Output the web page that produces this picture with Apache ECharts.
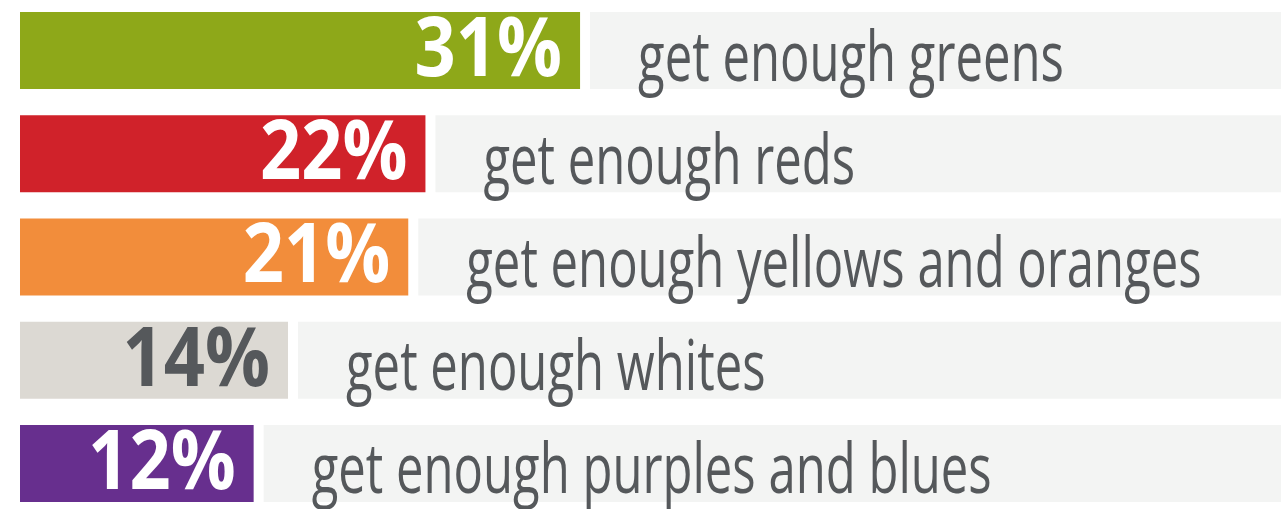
<!DOCTYPE html>
<html>
<head>
<meta charset="utf-8">
<script src="https://cdn.jsdelivr.net/npm/echarts@6/dist/echarts.min.js"></script>
<style>
html,body{margin:0;padding:0;background:#fff;}
#c{width:1281px;height:509px;}
</style>
</head>
<body>
<div id="c"></div>
<script>
const categories = ['get enough greens', 'get enough reds', 'get enough yellows and oranges', 'get enough whites', 'get enough purples and blues'];
const values = [31, 22, 21, 14, 12];
const valueLabels = ['31%', '22%', '21%', '14%', '12%'];

const barColors = ['#8ea819', '#d0222a', '#f28d3b', '#dcd9d3', '#672f8e'];
const labelColors = ['#ffffff', '#ffffff', '#ffffff', '#55585b', '#ffffff'];
const X_MIN = -1.6, X_MAX = 71.8;
const FONT = '"Open Sans", "Noto Sans", sans-serif';

const chart = echarts.init(document.getElementById('c'));
const data = values.map((v, i) => [v, i]);

chart.setOption({
  animation: false,
  backgroundColor: '#ffffff',
  grid: { left: 20, width: 1261, top: -1, height: 516, outerBoundsMode: 'none', containLabel: false },
  xAxis: { type: 'value', min: X_MIN, max: X_MAX, show: false },
  yAxis: { type: 'category', data: categories, inverse: true, show: false },
  series: [{
    type: 'custom',
    data: data,
    renderItem: function (params, api) {
      const i = api.value(1);
      const v = api.value(0);
      const start = api.coord([X_MIN, i]);
      const end = api.coord([v, i]);
      const band = api.size([0, 1])[1];
      const h = band * 0.746;
      const cs = params.coordSys;
      const right = cs.x + cs.width;
      const top = end[1] - h / 2;
      return {
        type: 'group',
        children: [
          { type: 'rect', shape: { x: start[0], y: top, width: end[0] - start[0], height: h }, style: { fill: barColors[i] } },
          { type: 'rect', shape: { x: end[0] + 10, y: top, width: right - end[0] - 10, height: h }, style: { fill: '#f3f4f3' } },
          { type: 'text', x: end[0] - 18, y: end[1] + 2, scaleX: 0.88, style: { x: 0, y: 0, text: valueLabels[i], fill: labelColors[i], font: 'bold 82px ' + FONT, textAlign: 'right', textVerticalAlign: 'middle' } },
          { type: 'text', x: end[0] + 58, y: end[1] + 10, scaleX: 0.7, style: { x: 0, y: 0, text: categories[i], fill: '#55585b', font: '70px ' + FONT, textAlign: 'left', textVerticalAlign: 'middle' } }
        ]
      };
    }
  }]
});
</script>
</body>
</html>
